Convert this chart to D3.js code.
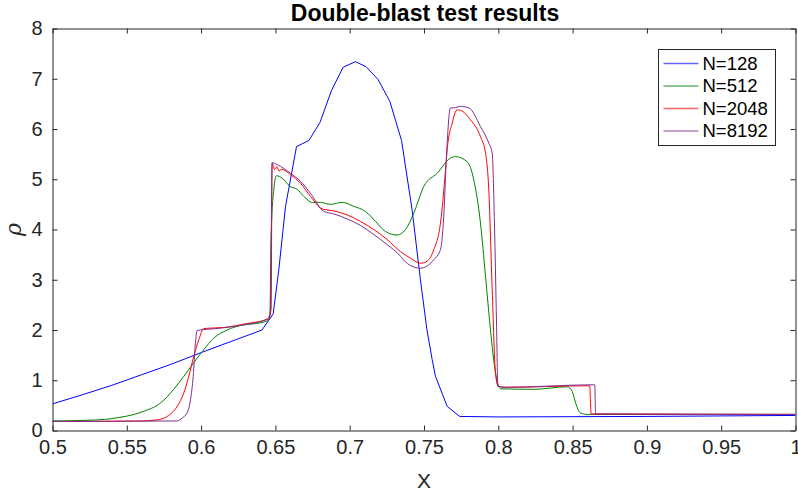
<!DOCTYPE html>
<html lang="en">
<head>
<meta charset="UTF-8">
<title>Double-blast test results</title>
<style>
  body { margin: 0; background: #fff; }
  svg { display: block; font-family: "Liberation Sans", Arial, sans-serif; }
</style>
</head>
<body>
<svg></svg>
<script src="https://cdn.jsdelivr.net/npm/d3@7"></script>
<script>
    // [x, rho] pairs
    const n128 = [
        [0.5,0.53],[0.52,0.71],[0.54,0.9],[0.56,1.11],[0.58,1.32],[0.6,1.55],[0.62,1.77],[0.641,2.0],
        [0.6485,2.32],[0.6523,3.2],[0.6568,4.46],[0.6642,5.65],[0.6725,5.77],[0.680,6.13],[0.6878,6.77],
        [0.6956,7.23],[0.7039,7.34],[0.711,7.24],[0.719,6.99],[0.727,6.55],[0.7349,5.77],[0.742,4.39],
        [0.7476,3.0],[0.752,2.0],[0.7555,1.41],[0.7577,1.08],[0.7656,0.48],[0.774,0.28],[0.8,0.27],
        [0.9,0.28],[1,0.3]
    ];
    const n512 = [
        [0.5,0.19],[0.52,0.2],[0.535,0.22],[0.545,0.26],[0.555,0.32],[0.563,0.4],[0.5704,0.5],[0.5765,0.65],
        [0.5816,0.82],[0.5884,1.08],[0.5951,1.35],[0.6018,1.61],[0.6086,1.84],[0.6175,2.0],[0.6265,2.09],
        [0.6411,2.15],[0.6456,2.2],[0.6463,2.3],[0.6471,3.86],[0.6489,4.79],[0.6507,5.07],[0.6546,5.02],
        [0.6597,4.86],[0.6646,4.8],[0.6691,4.66],[0.6748,4.54],[0.6803,4.54],[0.6871,4.5],[0.695,4.54],
        [0.7028,4.46],[0.7106,4.36],[0.7174,4.16],[0.7241,3.96],[0.732,3.89],[0.7376,4.0],[0.7432,4.33],
        [0.7499,4.86],[0.7589,5.12],[0.7678,5.42],[0.7712,5.45],[0.779,5.35],[0.7835,4.99],[0.788,4.13],
        [0.7914,3.07],[0.7947,2.01],[0.7981,1.15],[0.8003,0.88],[0.8015,0.83],[0.8239,0.82],[0.8464,0.87],
        [0.8497,0.78],[0.852,0.55],[0.8553,0.35],[0.8598,0.32],[1,0.32]
    ];
    const n2048 = [
        [0.5,0.18],[0.56,0.19],[0.57,0.21],[0.5772,0.28],[0.5839,0.48],[0.5884,0.75],[0.5917,1.08],
        [0.5951,1.48],[0.5985,1.81],[0.6018,2.03],[0.6153,2.05],[0.631,2.13],[0.6456,2.22],[0.6467,2.4],
        [0.6478,5.32],[0.6495,5.19],[0.651,5.25],[0.6525,5.16],[0.654,5.2],[0.6602,5.09],[0.6669,4.92],
        [0.6736,4.66],[0.6815,4.41],[0.6893,4.37],[0.6983,4.29],[0.7073,4.16],[0.7162,4.0],[0.7252,3.8],
        [0.7342,3.56],[0.7409,3.43],[0.7476,3.33],[0.7521,3.37],[0.7566,3.6],[0.7611,4.13],[0.7645,5.19],
        [0.7656,5.59],[0.769,6.12],[0.7723,6.38],[0.7746,6.37],[0.7813,6.18],[0.788,5.85],[0.7914,5.52],
        [0.7936,4.79],[0.7959,2.8],[0.7981,1.15],[0.7999,0.88],[0.805,0.86],[0.86,0.89],[0.8615,0.89],
        [0.8625,0.33],[1,0.32]
    ];
    const n8192 = [
        [0.5,0.18],[0.5839,0.19],[0.5873,0.25],[0.5906,0.35],[0.5929,0.62],[0.5947,1.08],[0.5962,1.74],
        [0.5973,1.99],[0.6108,2.03],[0.6265,2.09],[0.6445,2.22],[0.6471,2.4],[0.6478,5.33],[0.6512,5.29],
        [0.6602,5.12],[0.6669,4.96],[0.6736,4.72],[0.6826,4.36],[0.6893,4.31],[0.6983,4.21],[0.7073,4.08],
        [0.7162,3.9],[0.7252,3.7],[0.7342,3.47],[0.7376,3.35],[0.7476,3.23],[0.7566,3.4],[0.7611,3.6],
        [0.7633,4.26],[0.7651,5.45],[0.7678,6.42],[0.77,6.42],[0.7746,6.45],[0.7802,6.42],[0.788,6.05],
        [0.7936,5.72],[0.7959,5.52],[0.7974,4.13],[0.7988,2.14],[0.7997,0.88],[0.805,0.86],[0.864,0.91],
        [0.8649,0.91],[0.8655,0.33],[1,0.32]
    ];

    const seriesNames = ["N=128", "N=512", "N=2048", "N=8192"];
    const seriesData = [n128, n512, n2048, n8192];
    const seriesColors = ["#0000ff", "#008000", "#ff0000", "#7e2f8e"];
    const xTicks = [0.5, 0.55, 0.6, 0.65, 0.7, 0.75, 0.8, 0.85, 0.9, 0.95, 1];
    const yTicks = [0, 1, 2, 3, 4, 5, 6, 7, 8];

    const width = 798, height = 493;
    const margin = {top: 28.5, right: 2.5, bottom: 62.5, left: 52.5};
    const axisColor = "#262626";

    const svg = d3.select("svg")
        .attr("width", width)
        .attr("height", height);

    const x = d3.scaleLinear().domain([0.5, 1]).range([margin.left, width - margin.right]);
    const y = d3.scaleLinear().domain([0, 8]).range([height - margin.bottom, margin.top]);

    svg.append("clipPath").attr("id", "plot")
        .append("rect")
        .attr("x", margin.left).attr("y", margin.top)
        .attr("width", x(1) - x(0.5)).attr("height", y(0) - y(8));

    // data lines: coarse run drawn straight, finer runs smoothed
    const straight = d3.line().x(d => x(d[0])).y(d => y(d[1]));
    const smooth = d3.line().x(d => x(d[0])).y(d => y(d[1])).curve(d3.curveMonotoneX);
    svg.append("g")
        .attr("clip-path", "url(#plot)")
        .attr("fill", "none")
        .selectAll("path")
        .data(seriesData)
        .enter().append("path")
        .attr("stroke", (d, i) => seriesColors[i])
        .attr("stroke-width", 1)
        .attr("stroke-linejoin", "round")
        .attr("d", (d, i) => i === 0 ? straight(d) : smooth(d));

    // axes, ticks inward on all four sides (box on)
    const fmt = d => String(d);
    const tl = 5;
    svg.append("g")
        .attr("transform", `translate(0,${y(0)})`)
        .call(d3.axisBottom(x).tickValues(xTicks).tickFormat(fmt).tickSizeInner(-tl).tickSizeOuter(0).tickPadding(9));
    svg.append("g")
        .attr("transform", `translate(0,${y(8)})`)
        .call(d3.axisTop(x).tickValues(xTicks).tickFormat("").tickSizeInner(-tl).tickSizeOuter(0));
    svg.append("g")
        .attr("transform", `translate(${x(0.5)},0)`)
        .call(d3.axisLeft(y).tickValues(yTicks).tickFormat(fmt).tickSizeInner(-tl).tickSizeOuter(0).tickPadding(10));
    svg.append("g")
        .attr("transform", `translate(${x(1)},0)`)
        .call(d3.axisRight(y).tickValues(yTicks).tickFormat("").tickSizeInner(-tl).tickSizeOuter(0));

    svg.selectAll(".domain, .tick line").attr("stroke", axisColor);
    svg.selectAll(".tick text")
        .attr("fill", axisColor)
        .style("font-size", "20px")
        .style("font-family", "Liberation Sans, Arial, sans-serif");

    // titles
    svg.append("text")
        .attr("x", (x(0.5) + x(1)) / 2 + 1)
        .attr("y", 21)
        .attr("text-anchor", "middle")
        .style("font-size", "23px")
        .style("font-weight", "bold")
        .attr("fill", "#000")
        .text("Double-blast test results");

    svg.append("text")
        .attr("x", (x(0.5) + x(1)) / 2)
        .attr("y", 488)
        .attr("text-anchor", "middle")
        .style("font-size", "21px")
        .attr("fill", axisColor)
        .text("X");

    svg.append("text")
        .attr("transform", `translate(21,${y(4)}) rotate(-90)`)
        .attr("text-anchor", "middle")
        .style("font-size", "22px")
        .style("font-family", "DejaVu Serif, serif")
        .style("font-style", "italic")
        .attr("fill", axisColor)
        .text("ρ");

    // legend
    const legend = svg.append("g").attr("transform", "translate(658.5,49.5)");
    legend.append("rect")
        .attr("width", 117).attr("height", 96)
        .attr("fill", "#fff")
        .attr("stroke", axisColor)
        .attr("stroke-width", 1);
    const items = legend.selectAll("g.item")
        .data(seriesNames)
        .enter().append("g")
        .attr("class", "item")
        .attr("transform", (d, i) => `translate(0,${14 + i * 22.5})`);
    items.append("line")
        .attr("x1", 5).attr("x2", 40)
        .attr("stroke", (d, i) => seriesColors[i])
        .attr("stroke-opacity", 0.6)
        .attr("stroke-width", 1.5);
    items.append("text")
        .attr("x", 44).attr("dy", "0.35em")
        .style("font-size", "18.5px")
        .attr("fill", "#000")
        .text(d => d);
</script>
</body>
</html>
